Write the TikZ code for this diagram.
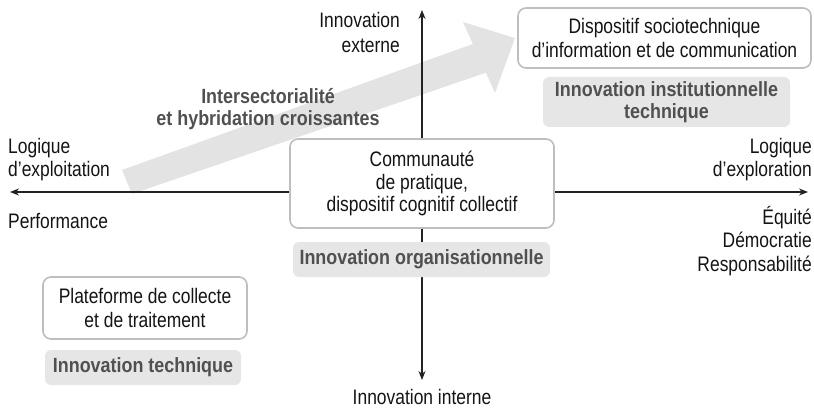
\documentclass[tikz,border=0pt]{standalone}
\usepackage{fontspec}
\setmainfont{Liberation Sans}[FakeStretch=0.83]
\newfontfamily\labelfont{Liberation Sans}[FakeStretch=0.87]
\usetikzlibrary{arrows.meta}
\definecolor{textc}{HTML}{141414}
\definecolor{boxc}{HTML}{BEBEBE}
\definecolor{labc}{HTML}{E6E6E7}
\definecolor{labt}{HTML}{505050}
\definecolor{arrowc}{HTML}{E3E3E4}
\definecolor{axc}{HTML}{222222}
\begin{document}
\begin{tikzpicture}[x=1pt,y=-1pt,
  txt/.style={font=\fontsize{21}{25}\selectfont, text=textc, inner sep=0pt},
  boxnode/.style={draw=boxc, line width=1.6pt, rounded corners=8pt, fill=white,
    align=center, inner sep=0pt, text=textc, font=\fontsize{21}{24}\selectfont},
  labnode/.style={fill=labc, rounded corners=6pt, text=labt, align=center, inner sep=0pt,
    font={\labelfont\bfseries\fontsize{20.6}{22}\selectfont}},
  axis/.style={draw=axc, line width=1.1pt, {Stealth[length=9pt,width=7pt]}-{Stealth[length=9pt,width=7pt]}}
]
\useasboundingbox (0,0) rectangle (814,409);

% big grey arrow
\fill[arrowc] (122,170) -- (472.9,44) -- (463,22) -- (515,38) -- (495,93) -- (485.9,72.7) -- (132,194) -- cycle;

% axes
\coordinate (vtop) at (422,10);
\coordinate (vbot) at (422,380);
\coordinate (hl) at (10,192);
\coordinate (hr) at (808,192);
\draw[axis] (vbot) -- (vtop);
\draw[axis] (hl) -- (hr);

% axis labels
\node[txt, align=right, anchor=east] (innext) at (400,32.5) {Innovation\\externe};
\node[txt, anchor=north] (innint) at (422,389) {Innovation interne};
\node[txt, align=left, anchor=north west, font=\fontsize{21}{23}\selectfont] (lexploit) at (8,138) {Logique\\d’exploitation};
\node[txt, anchor=north west] (perf) at (8,213) {Performance};
\node[txt, align=right, anchor=north east, font=\fontsize{21}{23}\selectfont] (lexplor) at (812,138) {Logique\\d’exploration};
\node[txt, align=right, anchor=east, font=\fontsize{21}{23.5}\selectfont] (equite) at (812,241) {Équité\\Démocratie\\Responsabilité};

\node[labnode, fill=none] (inter) at (268,109) {Intersectorialité\\et hybridation croissantes};

% boxes
\node[boxnode, minimum width=293pt, minimum height=60pt] (dispo) at (664.5,38) {Dispositif sociotechnique\\d’information et de communication};
\node[labnode, minimum width=247pt, minimum height=50pt] (inst) at (666.5,102) {Innovation institutionnelle\\technique};

\node[boxnode, minimum width=264pt, minimum height=89pt, font=\fontsize{21}{22.5}\selectfont] (commu) at (422,183.5) {Communauté\\de pratique,\\dispositif cognitif collectif};
\node[labnode, minimum width=257pt, minimum height=35pt] (orga) at (421.5,259.5) {Innovation organisationnelle};

\node[boxnode, minimum width=204pt, minimum height=62pt] (plat) at (145,308) {Plateforme de collecte\\et de traitement};
\node[labnode, minimum width=196pt, minimum height=35pt] (tech) at (143,367.5) {Innovation technique};
\end{tikzpicture}
\end{document}
